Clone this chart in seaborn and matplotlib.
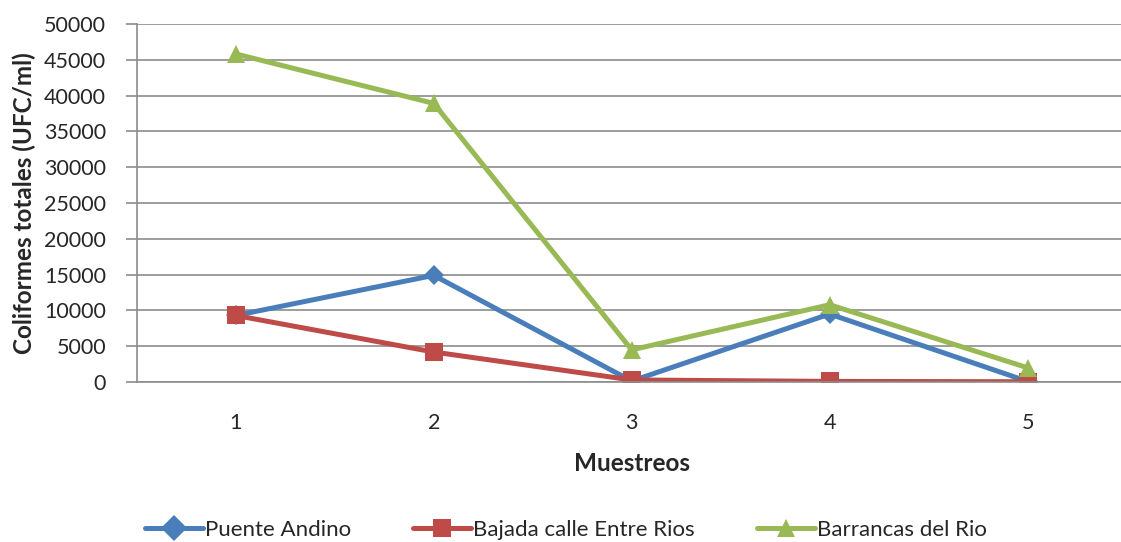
import matplotlib
matplotlib.use("Agg")
import matplotlib.pyplot as plt
import numpy as np
import pandas as pd
import seaborn as sns

muestreos = [1, 2, 3, 4, 5]
puente_andino = [9300, 14900, 150, 9500, 100]
bajada_entre_rios = [9300, 4200, 300, 100, 50]
barrancas_del_rio = [45800, 38900, 4500, 10800, 2000]
series_names = ["Puente Andino", "Bajada calle Entre Rios", "Barrancas del Rio"]
colors = ["#4A7EBB", "#BE4B48", "#98B954"]

df = pd.DataFrame({
    "Muestreos": muestreos * 3,
    "valor": puente_andino + bajada_entre_rios + barrancas_del_rio,
    "serie": [series_names[0]] * 5 + [series_names[1]] * 5 + [series_names[2]] * 5,
})

sns.set_style("white")
plt.rcParams["font.family"] = ["Lato", "DejaVu Sans"]

fig = plt.figure(figsize=(11.21, 5.42), dpi=100)
ax = fig.add_axes([0.122, 0.295, 0.883, 0.661])

sns.lineplot(data=df, x="Muestreos", y="valor", hue="serie", style="serie",
             hue_order=series_names, style_order=series_names,
             palette=colors, markers=["D", "s", "^"], dashes=False,
             linewidth=3.6, markersize=13, markeredgewidth=0, ax=ax)
# diamond markers are smaller in the original
ax.lines[0].set_markersize(10)

ax.set_ylim(0, 50000)
ax.set_xlim(0.5, 5.5)
ax.set_yticks(np.arange(0, 50001, 5000))
ax.yaxis.grid(True, color="#8c8c8c", linewidth=1.2)
ax.set_axisbelow(True)

# category ticks: labels at centres, tick marks at boundaries
ax.set_xticks(muestreos)
ax.set_xticklabels([str(m) for m in muestreos])
ax.tick_params(axis="x", which="major", length=0, pad=22, labelsize=15.5)
ax.set_xticks(np.arange(0.5, 5.6, 1), minor=True)
ax.tick_params(axis="x", which="minor", length=8, color="#8c8c8c", width=1.2)
ax.tick_params(axis="y", length=8, color="#8c8c8c", width=1.2, labelsize=15.5, left=True, pad=14)

for s in ["top", "right"]:
    ax.spines[s].set_visible(False)
for s in ["left", "bottom"]:
    ax.spines[s].set_color("#8c8c8c")
    ax.spines[s].set_linewidth(1.2)

ax.set_xlabel("Muestreos", fontsize=17.5, fontweight="bold", labelpad=14)
ax.set_ylabel("Coliformes totales (UFC/ml)", fontsize=17.5, fontweight="bold", labelpad=6)

ax.get_legend().remove()
handles, labels = ax.get_legend_handles_labels()
fig.legend(handles, labels, loc="center", bbox_to_anchor=(0.505, 0.022), ncol=3, frameon=False,
           fontsize=16, handlelength=2.6, columnspacing=2.8, handletextpad=0.1)

fig.savefig("out.png", dpi=100)
